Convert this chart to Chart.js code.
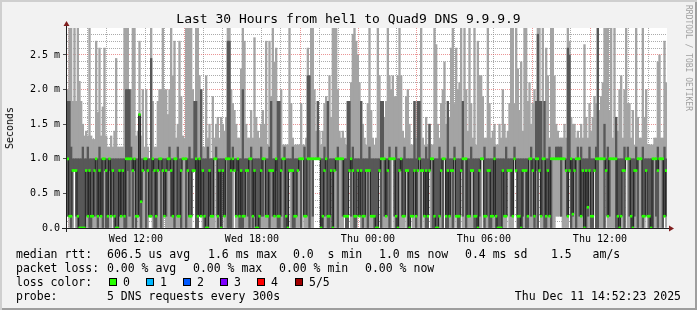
<!DOCTYPE html>
<html>
<head>
<meta charset="utf-8">
<title>Last 30 Hours from hel1 to Quad9 DNS 9.9.9.9</title>
<script src="https://cdn.jsdelivr.net/npm/chart.js@4.4.1/dist/chart.umd.min.js"></script>
<style>
  html, body { margin: 0; padding: 0; background: #f2f2f2; }
  #graph {
    position: relative; width: 697px; height: 310px; overflow: hidden;
    background: #f2f2f2;
    box-shadow: inset 2px 2px 0 #cfcfcf, inset -2px -2px 0 #9e9e9e;
    font-family: 'DejaVu Sans Mono', monospace; color: #000;
  }
  #graph canvas { position: absolute; left: 0; top: 0; }
  .txt  { position: absolute; white-space: pre; }
  #title  { left: 0; width: 697px; top: 12px; text-align: center; font-size: 13px; line-height: 14px; }
  #ylabel { left: 3px; top: 107px; font-size: 10px; line-height: 14px; writing-mode: vertical-rl; transform: rotate(180deg); }
  #mark   { left: 684px; top: 5px; font-size: 8px; line-height: 8px; writing-mode: vertical-rl; color: #a0a0a0; }
  .leg { font-size: 11.5px; line-height: 14px; }
  .sw  { position: absolute; top: 278px; width: 6px; height: 6px; border: 1px solid #000; }
</style>
</head>
<body>
<div id="graph">
  <canvas id="chart" width="697" height="310"></canvas>
  <div class="txt" id="title">Last 30 Hours from hel1 to Quad9 DNS 9.9.9.9</div>
  <div class="txt" id="ylabel">Seconds</div>
  <div class="txt" id="mark">RRDTOOL / TOBI OETIKER</div>

  <div class="txt leg" style="left:16px;top:247px">median rtt:</div>
  <div class="txt leg" style="left:107px;top:247px">606.5 us avg</div>
  <div class="txt leg" style="left:208px;top:247px">1.6 ms max</div>
  <div class="txt leg" style="left:293px;top:247px">0.0  s min</div>
  <div class="txt leg" style="left:379px;top:247px">1.0 ms now</div>
  <div class="txt leg" style="left:465px;top:247px">0.4 ms sd</div>
  <div class="txt leg" style="left:551px;top:247px">1.5   am/s</div>

  <div class="txt leg" style="left:16px;top:261px">packet loss:</div>
  <div class="txt leg" style="left:107px;top:261px">0.00 % avg</div>
  <div class="txt leg" style="left:193px;top:261px">0.00 % max</div>
  <div class="txt leg" style="left:279px;top:261px">0.00 % min</div>
  <div class="txt leg" style="left:365px;top:261px">0.00 % now</div>

  <div class="txt leg" style="left:16px;top:275px">loss color:</div>
  <div id="loss-legend"></div>

  <div class="txt leg" style="left:16px;top:289px">probe:</div>
  <div class="txt leg" style="left:107px;top:289px">5 DNS requests every 300s</div>
  <div class="txt leg" style="right:16px;top:289px">Thu Dec 11 14:52:23 2025</div>
</div>

<script>
/* ------------------------------------------------------------
   smokeping graph, hel1 -> Quad9 DNS 9.9.9.9, last 30 hours
   one entry per 300s step, rtt in ms, ranks of the 5 pings
   ------------------------------------------------------------ */

const PING_P1 = [
  .17,0,0,0,.83,0,0,0,0,0, 0,0,0,0,0,0,0,0,0,0, 0,0,0,0,0,0,0,.83,0,0,
  0,0,0,0,0,0,0,0,0,0, 0,0,.17,0,0,0,0,0,0,.17, .17,0,0,0,0,0,0,0,.17,0,
  0,0,0,0,0,0,0,0,0,0, 0,0,0,0,0,.83,.83,0,0,.17, .17,0,0,0,0,0,0,0,0,1,
  0,0,0,.83,0,0,0,0,0,0, .83,0,0,0,0,0,0,0,0,0, 0,0,0,0,0,0,0,0,0,0,
  0,0,0,0,0,0,0,0,0,0, 0,0,0,.83,0,0,0,0,0,0, 0,1,0,0,0,0,0,0,1,1,
  1,1,0,0,0,0,0,0,.83,0, 0,0,0,0,0,0,.17,0,0,.83, 0,0,0,0,.83,.17,0,0,0,0,
  0,0,0,0,0,0,0,.83,0,0, 0,0,0,0,0,1,0,0,0,0, 0,0,0,.83,0,0,.17,0,0,0,
  0,0,0,.83,0,0,0,.83,0,0, 0,0,0,0,0,0,1,0,0,0, 0,0,0,.17,0,0,.83,0,0,0,
  0,0,0,0,0,0,0,0,0,1, 0,0,0,0,0,0,0,0,0,0, 0,0,0,0,.83,0,0,0,1,.83,
  0,0,0,0,0,0,0,0,0,0, 0,0,0,.83,0,0,0,0,0,0, 0,0,0,.17,.17,.17,.17,0,0,0,
  0,.83,0,0,0,0,0,0,0,0, 0,0,0,0,0,0,.83,0,0,0, 0,0,0,.83,0,0,0,0,0,0,
  0,0,0,0,0,1,0,0,0,0, 0,0,0,0,0,0,0,.83,0,0, 0,0,0,0,0,0,0,0,.17,0
];

const PING_P2 = [
  .17,.17,0,.83,.83,.17,0,0,0,0, 0,.83,.17,0,0,.17,.17,1,0,.17, .17,0,.83,0,0,.83,.17,.83,0,0,
  0,.17,.17,.83,0,0,.83,.17,1,0, .83,0,.17,.17,0,.83,.83,0,.83,.17, .17,.83,0,0,.83,.83,0,.83,.17,.17,
  .83,.83,.17,.17,0,1,.17,.17,0,1, 1,0,.83,.17,.17,.83,.83,0,0,.17, .17,.83,0,0,0,.17,.17,.17,1,1,
  0,.17,0,.83,.17,1,0,0,0,.83, .83,.17,.83,0,0,0,.17,.83,.17,0, 1,0,.17,0,0,0,.17,.17,1,.17,
  .17,0,.83,.17,.17,.83,0,0,.17,1, 0,0,0,.83,.83,0,0,.17,.83,.83, 0,1,.17,.17,1,0,1,.17,1,1,
  1,1,0,0,.17,1,0,0,.83,0, .83,.83,0,1,1,.17,.17,0,0,.83, .17,.83,0,0,.83,.17,.83,0,.17,.83,
  0,.83,.17,.17,0,0,0,.83,0,1, .17,.17,.83,0,1,1,.17,0,0,.83, .83,.17,.17,.83,0,0,.17,.17,.83,0,
  .83,1,0,.83,.17,0,0,.83,1,0, 0,0,0,.17,.83,0,1,0,0,.17, .83,0,1,.17,0,0,.83,.17,1,0,
  .17,.17,.83,.83,0,0,0,.17,1,1, 0,.17,.83,0,0,.17,.17,0,0,0, 0,.83,.17,.17,.83,.83,.17,.17,1,.83,
  0,0,0,.17,.83,0,0,1,.17,.83, 0,.83,0,.83,.17,1,0,0,.83,.17, 0,1,1,1,1,1,.17,1,1,.83,
  .17,.83,0,.17,.83,0,1,.17,.17,.83, 0,0,.17,.83,0,0,.83,0,0,1, 1,1,0,.83,.17,.17,1,1,1,0,
  0,0,.17,.83,0,1,1,.17,0,0, .17,.83,0,1,1,0,.17,.83,.17,0, 0,0,1,.17,0,1,1,0,.17,.17
];

// median of the 5 pings
const PING_P3 = [
  1,.17,.17,.83,.83,.83,.17,0,0,0, 0,.83,.17,.83,.17,.17,.83,1,.17,.83, .17,1,1,.83,.17,1,.17,.83,.17,0,
  0,.83,.17,.83,.17,1,1,1,1,.83, 1,.17,.17,1.64,.38,.83,1,1,.83,.17, .17,1,.83,.17,.83,1,1,.83,.17,.83,
  1,1,.83,.17,1,1,.17,.17,.83,1, 1,1,.83,.17,.17,.83,.83,1,.17,1, .17,.83,.17,0,0,.83,.17,.17,1,1,
  .17,.83,0,.83,.17,1,1,1,.83,1, .83,.17,1,.17,.83,.17,.17,.83,.83,1, 1,.17,.83,0,0,.17,.83,1,1,.17,
  .17,.83,.83,.83,.17,1,.17,.17,.83,1, 1,.17,0,.83,.83,.83,.17,.17,.83,1, 1,1,.17,.17,1,1,1,1,1,1,
  1,1,0,.17,.83,1,.17,.17,.83,0, .83,1,1,1,1,1,.17,.17,.17,.83, 1,.83,.17,.17,.83,.17,.83,.17,.17,.83,
  .83,.83,.17,.17,.17,0,0,.83,1,1, 1,.17,.83,1,1,1,1,.17,0,.83, 1,.17,.17,.83,.83,0,.17,.17,.83,.17,
  .83,1,.83,.83,.17,.83,.17,.83,1,1, .17,0,0,.17,.83,1,1,.17,.83,.17, .83,.83,1,.17,.17,.17,.83,1,1,1,
  .17,.17,.83,.83,.17,.17,0,.83,1,1, .17,.17,.83,.83,.17,.17,1,.17,0,0, 0,.83,.17,.17,.83,.83,.83,.17,1,.83,
  .17,.17,0,.83,.83,.83,.17,1,1,.83, .17,1,1,.83,.17,1,1,.17,.83,.17, 1,1,1,1,1,1,1,1,1,.83,
  .17,.83,1,.2,.83,1,1,1,.17,.83, 0,.83,.3,.83,.17,.17,.83,1,1,1, 1,1,1,.83,.17,1,1,1,1,1,
  .17,0,.17,.83,.83,1,1,1,.17,0, .83,.83,1,1,1,.17,.17,.83,.17,.17, 0,1,1,1,.83,1,1,1,.17,.83
];

const PING_P4 = [
  1.83,1.83,1.17,1,1,1,1,1,1,1.17, 1,1,1.17,1,1,1,1,1,1,1.17, 1,1,1,1,1,1,1,1,1,1,
  1,1,1,1,1,2,2,2,1.17,1, 1,1,1,1.64,1,1,1,1,1,1, 2.45,1,1,1,1,1,1,1,1,1,
  1,1.17,1,1,1,1,1.17,1,1,1, 1,1,1,1.17,1,1,1.83,1.83,1,1, 2,1,1,1,1.17,1,1,1,1,1.17,
  1,1,1,1,1,1,2.7,2.7,1,1.17, 1,1,1,1,1,2,1,1,1,1, 1.17,1,1,1,1,1,1.17,1,1,1,
  1,1.17,1.83,1,1,1,1.83,1.83,1,1, 1.17,1,1,1,1,1.17,1,1,1,1, 1,1,1.17,1,2.2,2.2,1,1,1,1,
  1.83,1,1,1,1.17,1,1.83,1,1,1, 1,1,1.17,1,1,1,1,1,1.83,1.83, 1,1.17,1,1,1,1,1.83,1,1,1,
  1,1.17,1,1,1,1,1,1,1.83,1.83, 1,1,1,1.17,1,1,1,1.17,1,1, 1,1,1.17,1,1,1,1,1,1.83,1,
  1.83,1.83,1,1,1,1.17,1,1.5,1,1, 1,1,1,1.17,1,1,1,1,1.83,1, 1,1,1.17,1,1,1,1,1.83,1,1,
  1,1,1.17,1,1,1,1,1,1,1, 1.17,1,1,1,1,1,1.17,1,1,1, 1,1,1,1.17,1,1,1,1,1.17,1,
  1,1,1,1,1,1,1,1,1.17,1, 1,1.83,2.8,1.83,1.83,1,1.83,1,1,1.17, 1,1,1,1.17,1.17,1.17,1.17,1,1,1,
  2.6,2.5,1,1,1,1,1.17,1,1.17,1, 1,1,1,1.17,1,1,1,1.17,2.9,1, 1,1,1.5,1,1.17,1,1,1,1,1.6,
  1,1,1,1,1.17,1,1.17,1,1,1, 1,1.17,1,1,1,1.17,1,1,1,1, 1,1,1,1,1.17,1,1,1,1.17,1
];

const PING_P5 = [
  2,2.9,2.9,1.83,2.9,1.83,2.9,2.12,1.83,1.5, 1.33,1.4,1.33,2.9,1.33,1.28,1.28,2.7,1.67,2.6, 1.33,1.75,2.6,1.33,1.17,1.17,1.33,1.17,1.4,2.45,
  1.17,1.17,1.17,1.17,2.9,2.9,2.9,2,2,2.9, 2.9,1.33,1.4,2.7,1.33,2,1.17,2,1.17,1, 2.9,1.83,1.17,1.17,1.83,2,2,2.9,2,2,
  1.64,2,2.9,2.2,2.7,1.3,1.5,2.7,1.9,1.33, 1.3,2.9,2.9,2.9,2.9,2,1.83,2.9,2.9,2.2, 2,1.17,1.17,2.2,1.3,1.5,1,1.9,1.3,1.5,
  1.6,1.3,1.6,1.5,1.4,1.6,2.9,2.9,2,1.8, 1.7,1.5,1.3,1.3,2.3,2.9,2.7,1.5,1.3,1.3, 1.7,1.3,2.75,1.6,1.4,1.3,1.5,1.7,1.5,2.7,
  1.2,2.7,1.9,2.9,2.4,2.6,1.83,1.83,2,1.2, 1.2,1.2,1.2,2.9,1.8,1.3,1.2,1.2,1.2,1.2, 1.8,1.2,1.2,1.3,2.6,2.2,2.9,2.9,2,1.4,
  1.83,1.4,1.2,1.4,1.8,1.9,1.83,2.2,1.6,2.9, 2.9,2.9,2,1.4,1.3,1.4,1.3,1.2,1.83,1.83, 2.1,2.8,2.9,2.7,2.5,2.1,1.83,1.5,1.3,1.2,
  1.8,2.9,1.7,1.3,1.2,1.3,2.9,2.2,1.83,1.83, 1.6,1.83,2.9,2.2,2,2.2,1.9,1.9,2.2,2.9, 2.2,1.4,1.3,1.9,2,1.5,1.2,1.2,1.83,1.3,
  1.83,1.83,2.9,1.3,1.2,1.6,1.2,1.5,1.2,1.2, 2.9,2.65,1.5,1.3,1.8,2,2.4,1.5,1.83,1.6, 2.6,2.9,1.8,2.6,2,2.1,2.9,1.83,2.9,2,
  1.4,2.9,1.8,1.3,2.9,1.2,2.7,2.2,2.2,1.9, 1.3,1.3,2.9,1.8,1.3,1.4,1.5,1.2,1.2,1.5, 1.3,2,1.5,1.3,1.4,1.8,2.9,2.9,1.8,2.9,
  2.3,1.7,2.4,1.4,2.9,2.9,1.83,2.1,1.5,1.8, 2,1.83,2.9,2.9,1.83,2.9,1.83,2.6,2.2,1.3, 2.9,2.9,2.2,1.5,1.4,1.3,1.3,1.3,1.5,1.3,
  2.9,2.7,1.6,1.5,1.5,1.3,1.4,1.3,1.5,1.3, 2.65,1.6,1.3,1.8,1.4,1.6,1.9,1.8,2.9,1.7, 1.9,2.1,2.9,2.9,2.9,1.7,2.9,1.3,2.9,1.6,
  1.4,2,2.2,1.3,2,2.9,1.8,1.8,1.3,1.7, 1.2,2.9,1.6,1.3,1.3,2.9,1.6,2,1.2,1.2, 1.2,1.2,1.3,1.3,2.4,2.5,1.3,1.3,2.7,2.1
];

// time axis: minutes since Wed 00:00, graph runs Wed 08:57 .. Thu 14:57
const T_START = 537;
const T_END   = 2337;
const X_TICK_MIN    = [720, 1080, 1440, 1800, 2160];
const X_TICK_LABELS = ['Wed 12:00', 'Wed 18:00', 'Thu 00:00', 'Thu 06:00', 'Thu 12:00'];

const Y_MAX = 2.89;
const Y_TICK_VALUES = [0, 0.5, 1, 1.5, 2, 2.5];
const Y_TICK_LABELS = ['0.0', '0.5 m', '1.0 m', '1.5 m', '2.0 m', '2.5 m'];

const LOSS_LABELS = ['0', '1', '2', '3', '4', '5/5'];
const LOSS_COLORS = ['#26ff00', '#00b8ff', '#0059ff', '#7e00ff', '#ff0000', '#a10000'];

const SMOKE_OUTER = '#a4a4a4';
const SMOKE_INNER = '#585858';
const GRID_MINOR  = 'rgba(143,143,143,0.75)';
const GRID_MAJOR  = 'rgba(222,79,79,0.6)';
const AXIS_COLOR  = '#1f1f1f';
const ARROW_COLOR = '#801f1f';
const MED_HALF    = Y_MAX / 200;   // median mark ~2px tall

[PING_P1, PING_P2, PING_P3, PING_P4, PING_P5].forEach((a, i) => {
  if (a.length !== 360) throw new Error('ping array ' + (i + 1) + ' has ' + a.length + ' steps');
});

document.getElementById('loss-legend').innerHTML = LOSS_LABELS.map((l, i) => `
  <span class="sw" style="left:${109 + Math.round(i * 37.1)}px;background:${LOSS_COLORS[i]}"></span>
  <span class="txt leg" style="left:${123 + Math.round(i * 37.1)}px;top:275px">${l}</span>`).join('');

const pings    = PING_P1.map((_, i) => [PING_P1[i], PING_P2[i], PING_P3[i], PING_P4[i], PING_P5[i]].sort((a, b) => a - b));
const outer    = pings.map(p => [p[0], p[4]]);
const inner    = pings.map(p => [p[1], p[3]]);
const median   = pings.map(p => p[2]);
const medMarks = median.map(m => [m - MED_HALF, m + MED_HALF]);

const isMajorY = v => Math.round(v * 10) % 5 === 0;
const yGrid    = Array.from({ length: 29 }, (_, k) => k / 10);
const xGrid    = Array.from({ length: 30 }, (_, k) => 540 + k * 60);
const tickFont = { family: "'DejaVu Sans Mono', monospace", size: 10 };
const barOpts  = { grouped: false, barPercentage: 1, categoryPercentage: 1, borderWidth: 0, xAxisID: 'x', yAxisID: 'y' };

const rrdFrame = {
  id: 'rrdFrame',
  beforeDraw(c) {
    const { ctx, chartArea: a } = c;
    ctx.save();
    ctx.fillStyle = '#ffffff';
    ctx.fillRect(a.left, a.top, a.right - a.left, a.bottom - a.top);
    ctx.restore();
  },
  afterDraw(c) {
    const { ctx, chartArea: a } = c;
    const yb = a.bottom + 0.5, xl = a.left - 0.5;
    ctx.save();
    ctx.strokeStyle = AXIS_COLOR;
    ctx.lineWidth = 1;
    ctx.beginPath();
    ctx.moveTo(a.left - 5, yb); ctx.lineTo(a.right + 3, yb);
    ctx.moveTo(xl, a.bottom + 4); ctx.lineTo(xl, a.top - 2);
    ctx.stroke();
    ctx.fillStyle = ARROW_COLOR;
    ctx.beginPath();
    ctx.moveTo(a.right + 2, yb - 3); ctx.lineTo(a.right + 7, yb); ctx.lineTo(a.right + 2, yb + 3);
    ctx.closePath(); ctx.fill();
    ctx.beginPath();
    ctx.moveTo(xl - 3, a.top - 2); ctx.lineTo(xl, a.top - 7); ctx.lineTo(xl + 3, a.top - 2);
    ctx.closePath(); ctx.fill();
    ctx.restore();
  }
};

new Chart(document.getElementById('chart'), {
  type: 'bar',
  data: {
    labels: pings.map((_, i) => i),
    datasets: [
      { type: 'bar',  label: 'loss 0', data: medMarks, backgroundColor: LOSS_COLORS[0], order: 1, ...barOpts },
      { type: 'line', label: 'median', data: median, borderColor: AXIS_COLOR, borderWidth: 1, pointRadius: 0,
        stepped: 'middle', order: 2, xAxisID: 'x', yAxisID: 'y' },
      { type: 'bar',  label: 'smoke inner', data: inner, backgroundColor: SMOKE_INNER, order: 3, ...barOpts },
      { type: 'bar',  label: 'smoke outer', data: outer, backgroundColor: SMOKE_OUTER, order: 4, ...barOpts }
    ]
  },
  options: {
    responsive: false, animation: false, devicePixelRatio: 1,
    layout: { padding: { top: 28, right: 30, bottom: 0, left: 0 } },
    plugins: { legend: { display: false }, tooltip: { enabled: false } },
    scales: {
      x: { type: 'category', display: false, offset: true },
      xt: {
        type: 'linear', position: 'bottom', min: T_START, max: T_END, z: 1,
        afterBuildTicks: s => { s.ticks = xGrid.map(v => ({ value: v })); },
        afterFit: s => { s.height = 82; },
        grid: { color: c => (c.tick && c.tick.value % 180 === 0) ? GRID_MAJOR : GRID_MINOR, lineWidth: 1, drawTicks: false },
        border: { display: false, dash: [1, 1] },
        ticks: {
          autoSkip: false, maxRotation: 0, padding: 5, font: tickFont, color: '#000',
          callback: v => { const i = X_TICK_MIN.indexOf(v); return i >= 0 ? X_TICK_LABELS[i] : ''; }
        }
      },
      y: {
        type: 'linear', position: 'left', min: 0, max: Y_MAX, z: 1,
        afterBuildTicks: s => { s.ticks = yGrid.map(v => ({ value: v })); },
        afterFit: s => { s.width = 67; },
        grid: {
          color: c => (c.tick && isMajorY(c.tick.value)) ? GRID_MAJOR : GRID_MINOR, lineWidth: 1,
          tickLength: 4, tickColor: c => (c.tick && isMajorY(c.tick.value)) ? '#505050' : 'rgba(0,0,0,0)'
        },
        border: { display: false, dash: [1, 1] },
        ticks: {
          autoSkip: false, padding: 3, font: tickFont, color: '#000',
          callback: v => { const i = Y_TICK_VALUES.findIndex(t => Math.abs(t - v) < 1e-6); return i >= 0 ? Y_TICK_LABELS[i] : ''; }
        }
      }
    }
  },
  plugins: [rrdFrame]
});
</script>
</body>
</html>
